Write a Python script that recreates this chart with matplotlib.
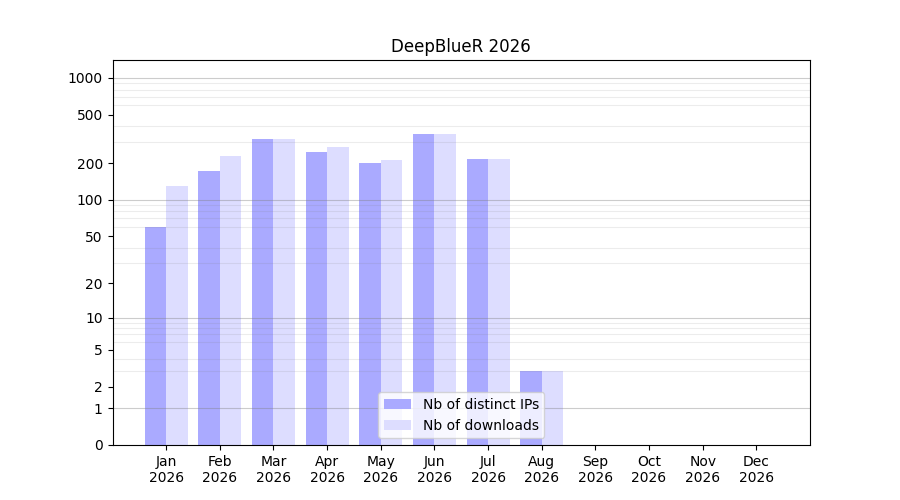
import numpy as np
import matplotlib
matplotlib.use("Agg")
import matplotlib.pyplot as plt

months = ["Jan", "Feb", "Mar", "Apr", "May", "Jun",
          "Jul", "Aug", "Sep", "Oct", "Nov", "Dec"]
year = "2026"
distinct_ips = [60, 173, 317, 248, 202, 349, 217, 3, 0, 0, 0, 0]
downloads = [130, 230, 317, 273, 213, 349, 217, 3, 0, 0, 0, 0]
ytick_vals = [0, 1, 2, 5, 10, 20, 50, 100, 200, 500, 1000]


def fwd(v):
    return np.log10(1 + np.clip(v, 0, None))


def inv(v):
    return 10 ** v - 1


fig, ax = plt.subplots(figsize=(9, 5), dpi=100)
x = np.arange(len(months))
ax.bar(x - 0.2, distinct_ips, width=0.4, color="#aaaaff", label="Nb of distinct IPs")
ax.bar(x + 0.2, downloads, width=0.4, color="#ddddff", label="Nb of downloads")

ax.set_yscale("function", functions=(fwd, inv))
ax.set_yticks(ytick_vals)
ax.set_yticklabels([str(v) for v in ytick_vals])
minor = [m * 10 ** k for k in range(0, 3) for m in range(2, 10)]
ax.set_yticks(minor, minor=True)
ax.tick_params(axis="y", which="minor", length=0)
ax.grid(False)
ax.grid(which="minor", axis="y", color="gray", alpha=0.15)
for d in [1, 10, 100, 1000]:
    ax.axhline(d, color="gray", alpha=0.4, linewidth=0.8, zorder=1.5)

ax.set_xticks(x)
ax.set_xticklabels([m + "\n" + year for m in months])
ax.set_xlim(-1, 12)
ax.set_ylim(0, 1400)
ax.set_title("DeepBlueR 2026")
ax.legend(loc="lower center")

fig.savefig("out.png")
